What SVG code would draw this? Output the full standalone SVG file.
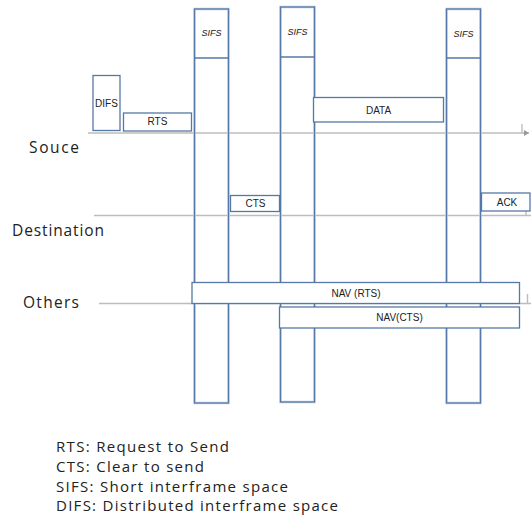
<svg xmlns="http://www.w3.org/2000/svg" width="531" height="515" viewBox="0 0 531 515">
<defs>
<style>
.box{fill:#fff;stroke:#5578a6;stroke-width:1.3}
.bar{fill:none;stroke:#5578a6;stroke-width:1.3}
.halo{fill:none;stroke:#c9d7e8;stroke-width:2.6}
.ln{stroke:#bdbdbd;stroke-width:1.4;fill:none}
.lbl{font-family:"Liberation Sans",Arial,sans-serif;font-size:10px;fill:#222;text-anchor:middle}
.sifs{font-family:"Liberation Sans",Arial,sans-serif;font-size:9px;font-style:italic;fill:#222;text-anchor:middle}
.row{font-family:"Open Sans","Noto Sans",sans-serif;font-size:15.5px;fill:#222}
.leg{font-family:"Open Sans","Noto Sans",sans-serif;font-size:15px;fill:#222}
</style>
<marker id="ah" markerWidth="6" markerHeight="6" refX="5" refY="3" orient="auto" markerUnits="userSpaceOnUse">
<path d="M0,0 L5,3 L0,6 z" fill="#999"/>
</marker>
</defs>

<g id="timelines">
<line class="ln" x1="88" y1="133" x2="529" y2="133" marker-end="url(#ah)"/>
<line class="ln" x1="522" y1="124" x2="522" y2="133"/>
<line class="ln" x1="94" y1="215.5" x2="531" y2="215.5"/>
<line class="ln" x1="526" y1="211" x2="526" y2="215.5"/>
<line class="ln" x1="99" y1="303.5" x2="531" y2="303.5"/>
<line class="ln" x1="527.5" y1="294" x2="527.5" y2="303.5"/>
</g>

<g id="labels-rows">
<text class="row" x="29" y="153" textLength="50">Souce</text>
<text class="row" x="12" y="236" textLength="92">Destination</text>
<text class="row" x="23" y="308" textLength="56">Others</text>
</g>

<g id="sifs1">
<rect class="halo" x="194.5" y="9" width="34" height="394"/>
<rect class="bar" x="194.5" y="9" width="34" height="394"/>
<line class="bar" x1="194.5" y1="58" x2="228.5" y2="58"/>
<text class="sifs" x="211.5" y="36">SIFS</text>
</g>
<g id="sifs2">
<rect class="halo" x="280.5" y="7" width="34" height="395"/>
<rect class="bar" x="280.5" y="7" width="34" height="395"/>
<line class="bar" x1="280.5" y1="57" x2="314.5" y2="57"/>
<text class="sifs" x="297.5" y="35">SIFS</text>
</g>
<g id="sifs3">
<rect class="halo" x="446.5" y="9" width="34" height="394"/>
<rect class="bar" x="446.5" y="9" width="34" height="394"/>
<line class="bar" x1="446.5" y1="58" x2="480.5" y2="58"/>
<text class="sifs" x="463.5" y="37">SIFS</text>
</g>

<g id="difs">
<rect class="box" x="93" y="75.5" width="27" height="55"/>
<text class="lbl" x="106.5" y="107" font-size="11">DIFS</text>
</g>
<g id="rts">
<rect class="box" x="123.5" y="113" width="68" height="18"/>
<text class="lbl" x="157.5" y="125">RTS</text>
</g>
<g id="data">
<rect class="box" x="313.5" y="97.5" width="130" height="24.5"/>
<text class="lbl" x="378.5" y="113.5">DATA</text>
</g>
<g id="cts">
<rect class="box" x="230.5" y="195.5" width="49" height="16"/>
<text class="lbl" x="255.5" y="207">CTS</text>
</g>
<g id="ack">
<rect class="box" x="481.5" y="193" width="48.5" height="18"/>
<text class="lbl" x="507" y="205.5">ACK</text>
</g>
<g id="nav-rts">
<rect class="box" x="192" y="282.5" width="327.5" height="21"/>
<text class="lbl" x="356" y="296.5">NAV (RTS)</text>
</g>
<g id="nav-cts">
<rect class="box" x="279.5" y="307" width="240" height="21"/>
<text class="lbl" x="399.5" y="321">NAV(CTS)</text>
</g>

<g id="legend">
<text class="leg" x="56" y="452" textLength="173">RTS: Request to Send</text>
<text class="leg" x="56" y="472" textLength="148">CTS: Clear to send</text>
<text class="leg" x="56" y="492" textLength="232">SIFS: Short interframe space</text>
<text class="leg" x="56" y="511" textLength="282">DIFS: Distributed interframe space</text>
</g>
</svg>
